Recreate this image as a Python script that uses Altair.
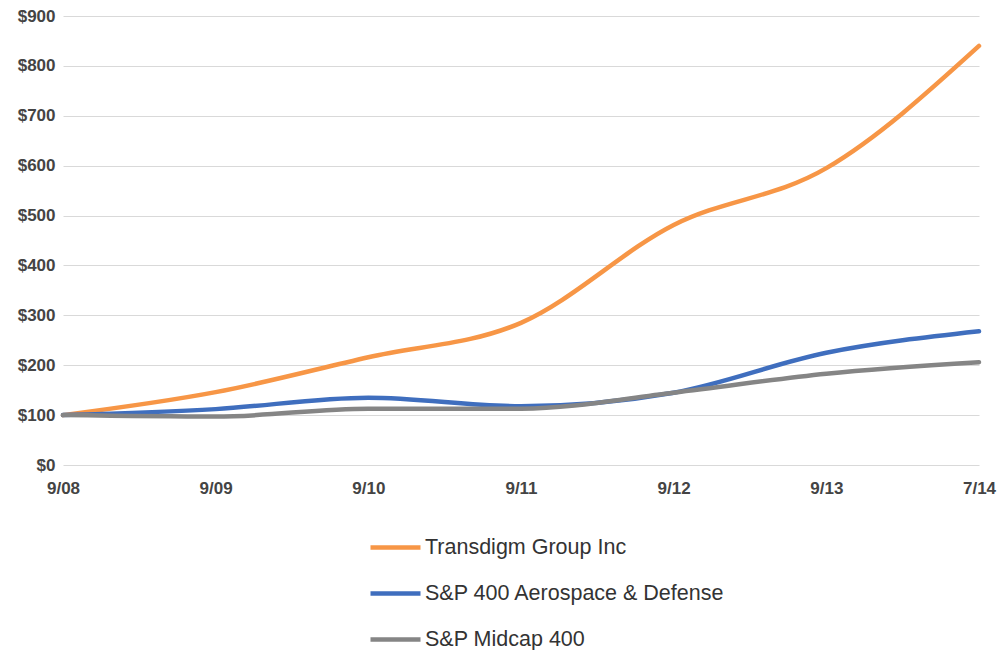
import altair as alt
import pandas as pd

dates = ["9/08", "9/09", "9/10", "9/11", "9/12", "9/13", "7/14"]
transdigm = [100, 146, 216, 285, 481, 595, 840]
aero = [100, 112, 135, 118, 145, 225, 268]
midcap = [100, 97, 113, 113, 145, 183, 206]
series = ["Transdigm Group Inc", "S&P 400 Aerospace & Defense", "S&P Midcap 400"]
colors = ["#F79646", "#3F6EBE", "#858585"]

rows = []
for name, vals in zip(series, [transdigm, aero, midcap]):
    for d, v in zip(dates, vals):
        rows.append({"date": d, "value": v, "series": name})
df = pd.DataFrame(rows)

chart = alt.Chart(df).mark_line(interpolate="monotone", strokeWidth=4.5, strokeCap="round").encode(
    x=alt.X("date:N", sort=dates, scale=alt.Scale(type="point", padding=0),
            axis=alt.Axis(title=None, labelAngle=0, ticks=False, domain=False, grid=False,
                          labelFont="Liberation Sans", labelFontWeight="bold", labelFontSize=17,
                          labelColor="#444444", labelPadding=15)),
    y=alt.Y("value:Q", scale=alt.Scale(domain=[0, 900], nice=False),
            axis=alt.Axis(title=None, values=list(range(0, 901, 100)), format="$,d", ticks=False,
                          domain=False, gridColor="#d9d9d9", gridWidth=1.2,
                          labelFont="Liberation Sans", labelFontWeight="bold", labelFontSize=17,
                          labelColor="#444444", labelPadding=8)),
    color=alt.Color("series:N", sort=series, scale=alt.Scale(domain=series, range=colors),
                    legend=alt.Legend(title=None, orient="none", legendX=305, legendY=504,
                                      direction="vertical", symbolType="stroke", symbolSize=2500,
                                      symbolStrokeWidth=4.5, labelFont="Liberation Sans",
                                      labelFontSize=21.5, labelColor="#333333", rowPadding=8,
                                      labelOffset=2, labelLimit=0)),
).properties(
    width=916, height=449,
    autosize=alt.AutoSizeParams(type="none"),
    padding={"left": 55, "top": 8, "right": 18, "bottom": 185},
).configure_view(stroke=None)

chart.save("out.html", embed_options={"renderer": "svg", "actions": False})
